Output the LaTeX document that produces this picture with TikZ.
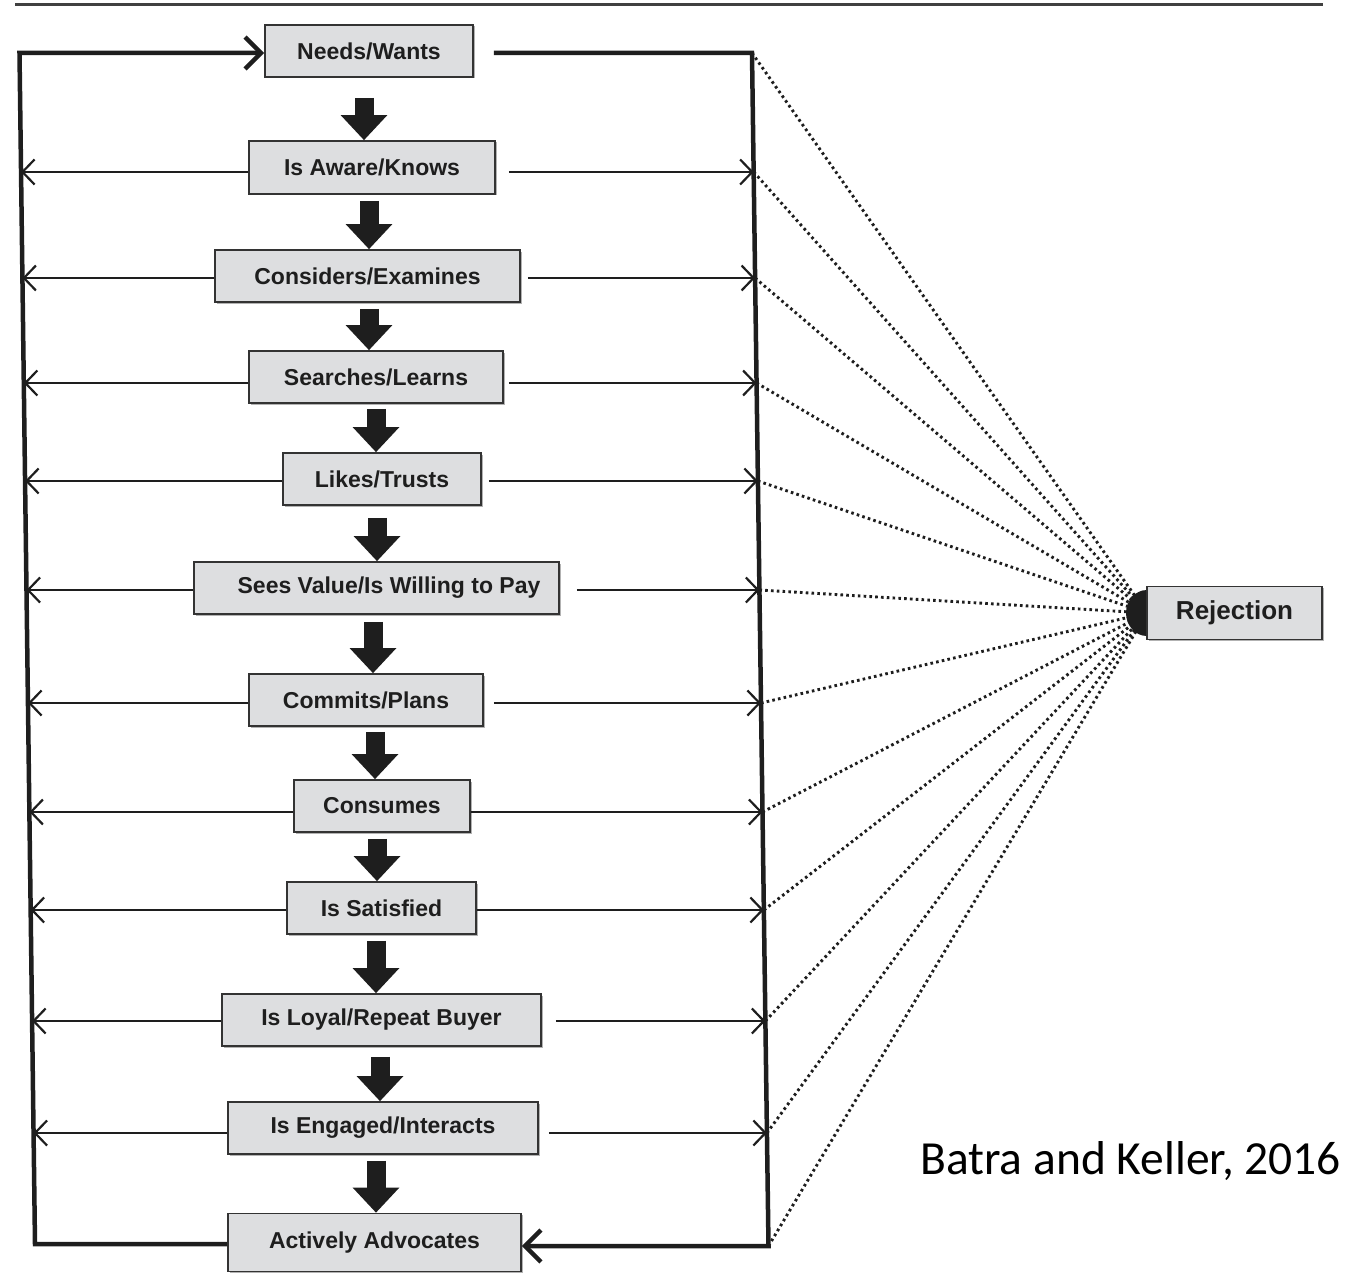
\documentclass[tikz,border=0pt]{standalone}
\usepackage{fontspec}
\setmainfont{Liberation Sans}
\newfontfamily\carlito{Carlito}
\usetikzlibrary{arrows.meta,shadows}
\definecolor{boxfill}{HTML}{DDDEE0}
\definecolor{ink}{HTML}{1E1E1E}
\begin{document}
\begin{tikzpicture}[x=1pt,y=-1pt,
  stage/.style={draw=black!80, line width=1.6pt, fill=boxfill, minimum height=52pt,
    inner sep=0pt, font=\fontsize{23}{27}\selectfont\bfseries, text=ink,
    drop shadow={shadow xshift=1.5pt,shadow yshift=-1.5pt,opacity=.3,fill=black}},
  frame/.style={line width=4pt, draw=ink},
  bigarrow/.style={line width=4.5pt, draw=ink, -{Straight Barb[length=16pt,width=32pt]}},
  thinarrow/.style={line width=2.2pt, draw=ink, -{Straight Barb[length=12pt,width=25pt]}},
  blockarrow/.style={line width=19pt, draw=ink, -{Triangle[length=25pt,width=45pt]}},
  dots/.style={line width=2.9pt, draw=ink, dash pattern=on 2.6pt off 3.2pt}
]
\useasboundingbox (0,0) rectangle (1345,1287);
% top rule
\coordinate (ruleL) at (15,5);
\coordinate (ruleR) at (1323,5);
\draw[line width=3pt, draw=black!75] (ruleL) -- (ruleR);

% frame corners
\coordinate (TL) at (19.5,53);
\coordinate (BL) at (35,1244);
\coordinate (TR) at (752,53);
\coordinate (BR) at (768.5,1246);

% arrow end points on the left and right lines
\coordinate (L2) at (21.0,172);   \coordinate (R2) at (753.7,172);
\coordinate (L3) at (22.4,278);   \coordinate (R3) at (755.1,278);
\coordinate (L4) at (23.8,383);   \coordinate (R4) at (756.6,383);
\coordinate (L5) at (25.1,481);   \coordinate (R5) at (757.9,481);
\coordinate (L6) at (26.5,590);   \coordinate (R6) at (759.4,590);
\coordinate (L7) at (28.0,703);   \coordinate (R7) at (761.0,703);
\coordinate (L8) at (29.4,812);   \coordinate (R8) at (762.5,812);
\coordinate (L9) at (30.6,910);   \coordinate (R9) at (763.9,910);
\coordinate (L10) at (32.1,1021); \coordinate (R10) at (765.4,1021);
\coordinate (L11) at (33.5,1133); \coordinate (R11) at (766.9,1133);

% dotted fan to Rejection
\coordinate (fan) at (1147,613);
\foreach \p in {TR,R2,R3,R4,R5,R6,R7,R8,R9,R10,R11,BR}
  \draw[dots] (\p) -- (fan);
\fill[ink] (fan) ellipse [x radius=21pt, y radius=23pt];

% stage boxes
\node[stage, minimum width=208pt] (n1) at (369,51) {Needs/Wants};
\node[stage, minimum width=246pt, minimum height=53pt] (n2) at (372,167.5) {Is Aware/Knows};
\node[stage, minimum width=305pt] (n3) at (367.5,276) {Considers/Examines};
\node[stage, minimum width=254pt] (n4) at (376,377) {Searches/Learns};
\node[stage, minimum width=198pt] (n5) at (382,479) {Likes/Trusts};
\node[stage, minimum width=365pt] (n6) at (376.5,588) {\hspace*{25pt}Sees Value/Is Willing to Pay};
\node[stage, minimum width=234pt] (n7) at (366,700) {Commits/Plans};
\node[stage, minimum width=176pt] (n8) at (382,806) {Consumes};
\node[stage, minimum width=189pt] (n9) at (381.5,908) {Is Satisfied};
\node[stage, minimum width=319pt] (n10) at (381.5,1020) {Is Loyal/Repeat Buyer};
\node[stage, minimum width=310pt] (n11) at (383,1128) {Is Engaged/Interacts};
\node[stage, minimum width=293pt, minimum height=58pt] (n12) at (374.5,1242.5) {Actively Advocates};

\node[stage, minimum width=175pt, minimum height=53pt,
  font=\fontsize{26}{30}\selectfont\bfseries] (rej) at (1234.5,613) {Rejection};

% outer loop
\draw[bigarrow] (n12.west |- BL) -- (BL) -- (TL) -- (n1.west |- TL);
\draw[bigarrow, shorten <=20pt] (n1.east |- TR) -- (TR) -- (BR) -- (n12.east |- BR);

% block arrows down the chain
\foreach \a/\b/\x/\g in {n1/n2/364/20, n2/n3/369/6, n3/n4/369/6, n4/n5/376/5,
    n5/n6/377/12, n6/n7/373/7, n7/n8/375/5, n8/n9/377/6, n9/n10/376/6,
    n10/n11/380/10, n11/n12/376/6}
  \draw[blockarrow, shorten <=\g pt] (\a.south -| \x,0) -- (\b.north -| \x,0);

% side arrows
\foreach \i/\g in {2/13, 3/7, 4/5, 5/7, 6/17, 7/10, 8/0, 9/0, 10/14, 11/10} {
  \draw[thinarrow] (n\i.west |- L\i) -- (L\i);
  \draw[thinarrow, shorten <=\g pt] (n\i.east |- R\i) -- (R\i);
}

% source
\node[anchor=base west, inner sep=0pt, font=\carlito\fontsize{47.5}{54}\selectfont, text=black]
  (src) at (920,1174) {Batra and Keller, 2016};
\end{tikzpicture}
\end{document}
